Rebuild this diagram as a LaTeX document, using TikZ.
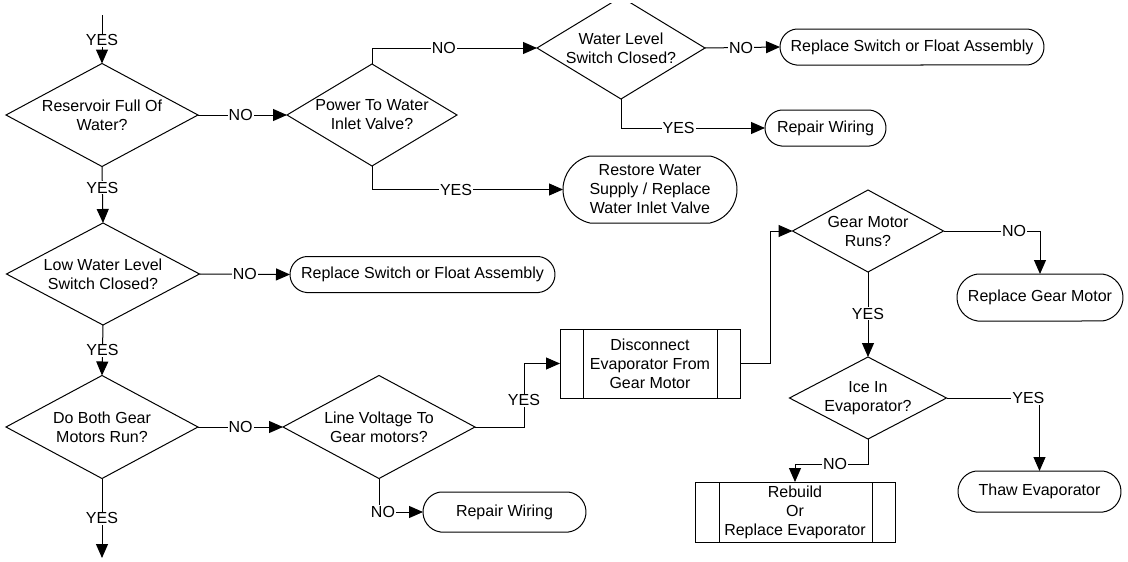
\documentclass[tikz,border=0pt]{standalone}
\usepackage{fontspec}
\setmainfont{Liberation Sans}
\usetikzlibrary{shapes.geometric,shapes.misc,arrows.meta}
\begin{document}
\begin{tikzpicture}[x=1pt,y=-1pt,
  font=\fontsize{16}{19}\selectfont,
  dia/.style={draw, shape=diamond, inner sep=0pt, outer sep=0pt, line width=1pt},
  txt/.style={align=center, inner sep=0pt},
  term/.style={draw, shape=rounded rectangle, inner sep=0pt, outer sep=0pt, align=center, line width=1pt},
  proc/.style={draw, rectangle, inner sep=0pt, outer sep=0pt, align=center, line width=1pt},
  conn/.style={line width=1pt, -{Triangle[length=14pt,width=12pt]}},
  plain/.style={line width=1pt},
  lbl/.style={fill=white, inner sep=1pt}
]
\useasboundingbox (0,0) rectangle (1128,562);
\clip (0,3) rectangle (1128,562);

% decisions
\node[dia, minimum width=192pt, minimum height=103pt] (d1) at (102,115) {};
\node[txt] (d1t) at (d1) {Reservoir Full Of\\Water?};
\node[dia, minimum width=170pt, minimum height=102pt] (d2) at (372,115) {};
\node[txt] (d2t) at (d2) {Power To Water\\Inlet Valve?};
\node[dia, minimum width=168pt, minimum height=102pt] (d3) at (621,48) {};
\node[txt] (d3t) at (d3) {Water Level\\Switch Closed?};
\node[dia, minimum width=193pt, minimum height=102pt] (d4) at (103,274) {};
\node[txt] (d4t) at (d4) {Low Water Level\\Switch Closed?};
\node[dia, minimum width=192pt, minimum height=103pt] (d5) at (102,427) {};
\node[txt] (d5t) at (d5) {Do Both Gear\\Motors Run?};
\node[dia, minimum width=192pt, minimum height=103pt] (d6) at (379,427) {};
\node[txt] (d6t) at (d6) {Line Voltage To\\Gear motors?};
\node[dia, minimum width=151pt, minimum height=82pt] (d7) at (868,231) {};
\node[txt] (d7t) at (d7) {Gear Motor\\Runs?};
\node[dia, minimum width=157pt, minimum height=82pt] (d8) at (868,398) {};
\node[txt] (d8t) at (d8) {Ice In\\Evaporator?};

% terminals
\node[term, minimum width=264pt, minimum height=36pt, rounded rectangle arc length=170] (t1) at (912,47) {Replace Switch or Float Assembly};
\node[term, minimum width=121pt, minimum height=36pt, rounded rectangle arc length=170] (t2) at (825.5,128) {Repair Wiring};
\node[term, minimum width=174pt, minimum height=67pt, rounded rectangle arc length=155] (t3) at (650,189.5) {Restore Water\\Supply / Replace\\Water Inlet Valve};
\node[term, minimum width=265pt, minimum height=36pt, rounded rectangle arc length=170] (t4) at (422.5,274.5) {Replace Switch or Float Assembly};
\node[term, minimum width=163pt, minimum height=40pt, rounded rectangle arc length=165] (t5) at (504.5,512) {Repair Wiring};
\node[term, minimum width=166pt, minimum height=47pt, rounded rectangle arc length=165] (t6) at (1040,297.5) {Replace Gear Motor};
\node[term, minimum width=163pt, minimum height=41pt, rounded rectangle arc length=165] (t7) at (1039.5,491.5) {Thaw Evaporator};

% processes
\node[proc, minimum width=180pt, minimum height=69pt] (p1) at (650,363.5) {Disconnect\\Evaporator From\\Gear Motor};
\draw[plain] ([xshift=23pt]p1.north west) -- ([xshift=23pt]p1.south west);
\draw[plain] ([xshift=-23pt]p1.north east) -- ([xshift=-23pt]p1.south east);
\node[proc, minimum width=200pt, minimum height=60pt] (p2) at (795,512) {Rebuild\\Or\\Replace Evaporator};
\draw[plain] ([xshift=24pt]p2.north west) -- ([xshift=24pt]p2.south west);
\draw[plain] ([xshift=-23pt]p2.north east) -- ([xshift=-23pt]p2.south east);

% free ends
\coordinate (top) at (102,15);
\coordinate (bot) at (102,558);

% connectors
\draw[conn] (top) -- node[lbl,pos=0.52] (l1) {YES} (d1.north);
\draw[conn] (d1.east) -- node[lbl,pos=0.48] (l2) {NO} (d2.west);
\draw[conn] (d2.north) |- node[lbl,pos=0.718] (l3) {NO} (d3.west);
\draw[conn] (d3.east) -- node[lbl,pos=0.48] (l4) {NO} (t1.west);
\draw[conn] (d3.south) |- node[lbl,pos=0.7] (l5) {YES} (t2.west);
\draw[conn] (d2.south) |- node[lbl,pos=0.72] (l6) {YES} (t3.west);
\draw[conn] (d1.south) -- node[lbl,pos=0.375] (l7) {YES} (d4.north);
\draw[conn] (d4.east) -- node[lbl,pos=0.5] (l8) {NO} (t4.west);
\draw[conn] (d4.south) -- node[lbl,pos=0.5] (l9) {YES} (d5.north);
\draw[conn] (d5.south) -- node[lbl,pos=0.5] (l10) {YES} (bot);
\draw[conn] (d5.east) -- node[lbl,pos=0.5] (l11) {NO} (d6.west);
\draw[conn] (d6.south) |- node[lbl,pos=0.545] (l12) {NO} (t5.west);
\draw[conn] (d6.east) -- ++(49,0) |- node[lbl,pos=0.21] (l13) {YES} (p1.west);
\draw[conn] (p1.east) -- ++(30,0) |- (d7.west);
\draw[conn] (d7.east) -| node[lbl,pos=0.366] (l15) {NO} (t6.north);
\draw[conn] (d7.south) -- node[lbl,pos=0.49] (l16) {YES} (d8.north);
\draw[conn] (d8.east) -| node[lbl,pos=0.44] (l17) {YES} (t7.north);
\draw[conn] (d8.south) -- ++(0,25) -| node[lbl,pos=0.226] (l18) {NO} (p2.north);
\end{tikzpicture}
\end{document}
